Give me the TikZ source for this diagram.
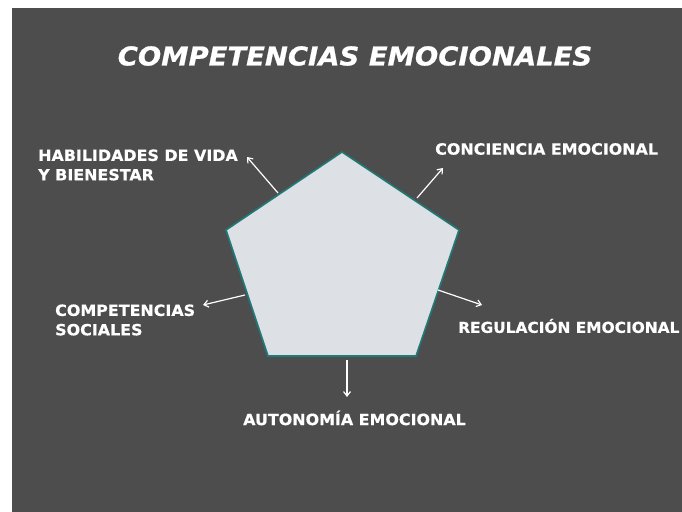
\documentclass[tikz,border=0pt]{standalone}
\usepackage{fontspec}
\setmainfont{DejaVu Sans}
\newfontfamily\lblfont[FakeStretch=1.03,FakeBold=0.5]{DejaVu Sans}
\newfontfamily\ttlfont[FakeStretch=1.06,FakeBold=0.8]{DejaVu Sans}
\usetikzlibrary{arrows.meta}
\definecolor{bgdark}{HTML}{4D4D4D}
\definecolor{pentfill}{HTML}{DDE0E5}
\definecolor{pentline}{HTML}{1F7A78}
\tikzset{
  lbl/.style={text=white, font=\lblfont\bfseries\fontsize{15.5}{19.5}\selectfont, inner sep=0pt, align=left, anchor=west},
  arr/.style={draw=white, line width=1.2pt, -{Straight Barb[length=4.5pt,width=7pt]}},
}
\begin{document}
\begin{tikzpicture}[x=1bp,y=-1bp]
\useasboundingbox (0,0) rectangle (682,512);
\fill[bgdark] (12,8) rectangle (682,512);
% title
\node[text=white, inner sep=0pt, font=\ttlfont\bfseries\itshape\fontsize{26}{31}\selectfont] (title) at (355,56) {COMPETENCIAS EMOCIONALES};
% pentagon
\coordinate (pT) at (342,152);
\coordinate (pUR) at (459,230);
\coordinate (pLR) at (416,356);
\coordinate (pLL) at (268,356);
\coordinate (pUL) at (226,230);
\draw[pentline, fill=pentfill, line width=1.6pt, line join=miter] (pT) -- (pUR) -- (pLR) -- (pLL) -- (pUL) -- cycle;
% labels
\node[lbl] (hab) at (38,165) {HABILIDADES DE VIDA\\Y BIENESTAR};
\node[lbl] (conc) at (435,149) {CONCIENCIA EMOCIONAL};
\node[lbl] (soc) at (55,320) {COMPETENCIAS\\SOCIALES};
\node[lbl, font=\lblfont\bfseries\fontsize{15}{19}\selectfont] (reg) at (458,326) {REGULACIÓN EMOCIONAL};
\node[lbl] (aut) at (243,418) {AUTONOMÍA EMOCIONAL};
% arrow ends
\coordinate (a1s) at (278,193); \coordinate (a1e) at (247,157);
\coordinate (a2s) at (417,198); \coordinate (a2e) at (443,168);
\coordinate (a3s) at (245,295); \coordinate (a3e) at (203,305);
\coordinate (a4s) at (438,290); \coordinate (a4e) at (482,305);
\coordinate (a5s) at (347,360); \coordinate (a5e) at (347,397);
\draw[arr] (a1s) -- (a1e);
\draw[arr] (a2s) -- (a2e);
\draw[arr] (a3s) -- (a3e);
\draw[arr] (a4s) -- (a4e);
\draw[arr] (a5s) -- (a5e);
\end{tikzpicture}
\end{document}
